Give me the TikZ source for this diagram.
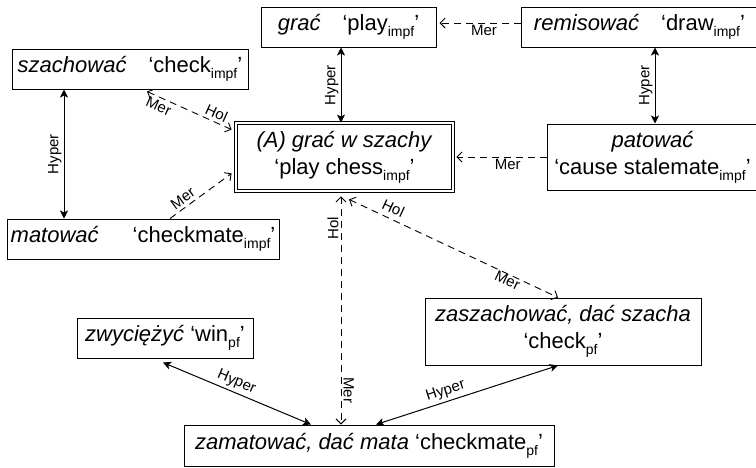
\documentclass[tikz,border=0pt]{standalone}
\usepackage{fontspec}
\setmainfont{Liberation Sans}
\usetikzlibrary{arrows.meta}
\newcommand\subs[1]{\raisebox{-0.28em}{\fontsize{14}{14}\selectfont #1}}
\begin{document}
\begin{tikzpicture}[x=1pt,y=-1pt,
  box/.style={draw, line width=1pt, inner sep=0pt, align=center, font=\fontsize{22}{27}\selectfont},
  lbl/.style={font=\fontsize{15}{15}\selectfont, inner sep=2pt},
  hyp/.style={line width=1pt, {Stealth[length=8pt,width=8pt,inset=2pt]}-{Stealth[length=8pt,width=8pt,inset=2pt]}},
  dsh/.style={line width=0.9pt, dash pattern=on 7pt off 5pt},
  onehead/.style={-{Straight Barb[length=5pt,width=10pt]}},
  twohead/.style={{Straight Barb[length=5pt,width=10pt]}-{Straight Barb[length=5pt,width=10pt]}}
]
\useasboundingbox (0,0) rectangle (756,467);

\node[box, minimum width=175pt, minimum height=40pt] (grac) at (348.5,27) {\textit{grać}\quad‘play\subs{impf}’};
\node[box, minimum width=237pt, minimum height=40pt] (remis) at (639.5,27) {\textit{remisować}\quad‘draw\subs{impf}’};
\node[box, minimum width=236pt, minimum height=40pt] (szach) at (130,69) {\textit{szachować}\quad‘check\subs{impf}’};
\node[box, minimum width=272pt, minimum height=40pt] (mat) at (143,239) {\textit{matować}\hspace{34pt}‘checkmate\subs{impf}’};
\node[box, double, double distance=2pt, line width=0.8pt, minimum width=217pt, minimum height=68pt] (ctr) at (344.5,157) {\textit{(A) grać w szachy}\\‘play chess\subs{impf}’};
\node[box, minimum width=211pt, minimum height=66pt] (pat) at (652.5,157) {\textit{patować}\\‘cause stalemate\subs{impf}’};
\node[box, minimum width=276pt, minimum height=67pt] (zasz) at (563,331.5) {\textit{zaszachować, dać szacha}\\‘check\subs{pf}’};
\node[box, minimum width=176pt, minimum height=40pt] (zwy) at (165,338) {\textit{zwyciężyć} ‘win\subs{pf}’};
\node[box, minimum width=370pt, minimum height=41pt] (zam) at (369,445.5) {\textit{zamatować, dać mata} ‘checkmate\subs{pf}’};

% Hyper (solid)
\draw[hyp] ([xshift=-3.5pt]ctr.north) -- ([xshift=-7.5pt]grac.south) node[lbl, midway, sloped, above]{Hyper};
\draw[hyp] ([xshift=2.5pt]pat.north) -- ([xshift=15.5pt]remis.south) node[lbl, midway, sloped, above]{Hyper};
\draw[hyp] ([xshift=-79pt]mat.north) -- ([xshift=-66pt]szach.south) node[lbl, midway, sloped, above]{Hyper};
\draw[hyp] ([xshift=-2pt,yshift=-4pt]zwy.south) -- ([xshift=-58pt]zam.north) node[lbl, pos=0.47, sloped, above=1pt]{Hyper};
\draw[hyp] ([xshift=7pt]zam.north) -- ([xshift=-5pt]zasz.south) node[lbl, pos=0.4, sloped, above=1pt]{Hyper};

% Mer / Hol (dashed)
\draw[dsh, onehead] ([yshift=4pt]remis.west) -- ([xshift=3pt,yshift=4pt]grac.east) node[lbl, pos=0.45, below]{Mer};
\draw[dsh, onehead] (pat.west) -- ([xshift=3pt]ctr.east) node[lbl, pos=0.43, below]{Mer};
\draw[dsh, twohead] ([xshift=17pt,yshift=-2pt]szach.south) -- ([xshift=-4pt,yshift=-7pt]ctr.north west)
  node[lbl, pos=0.18, sloped, below=1pt]{Mer} node[lbl, pos=0.78, sloped, above=1pt]{Hol};
\draw[dsh, onehead] ([xshift=27pt]mat.north) -- ([xshift=-4pt,yshift=18pt]ctr.south west) node[lbl, pos=0.29, sloped, above=1pt]{Mer};
\draw[dsh, twohead] ([xshift=4.5pt,yshift=-8pt]ctr.south) -- ([xshift=-5pt]zasz.north)
  node[lbl, pos=0.19, sloped, above=3pt]{Hol} node[lbl, pos=0.77, sloped, below, inner sep=0pt]{Mer};
\draw[dsh, twohead] ([xshift=-3.5pt,yshift=-5pt]ctr.south) -- ([xshift=-28pt]zam.north)
  node[lbl, pos=0.14, rotate=90, above]{Hol} node[lbl, pos=0.85, rotate=-90, above]{Mer};
\end{tikzpicture}
\end{document}
